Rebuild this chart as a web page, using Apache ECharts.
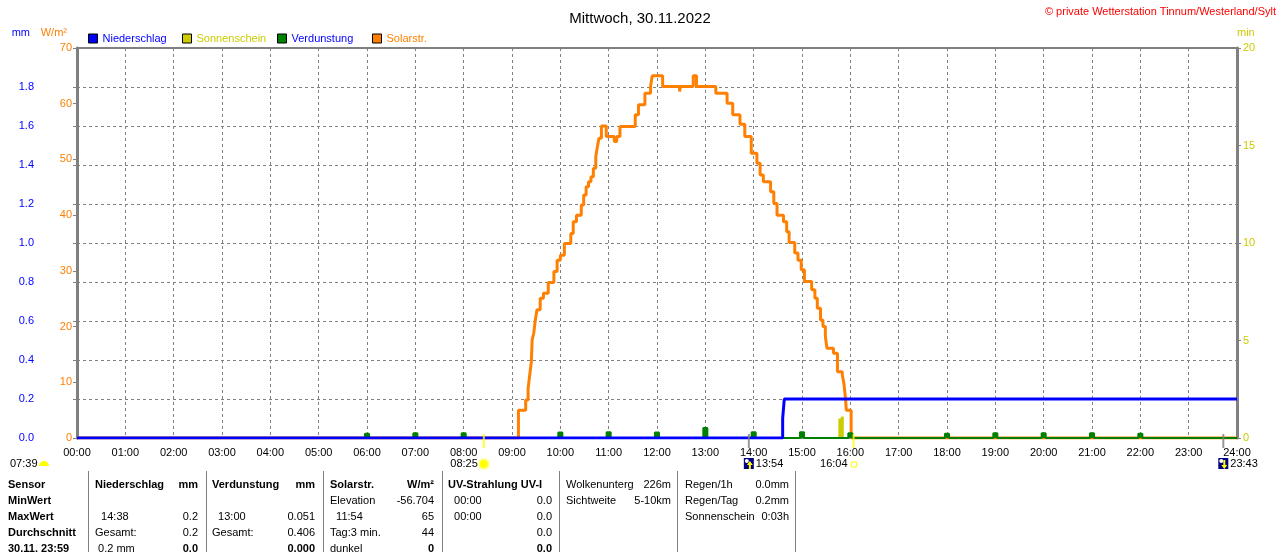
<!DOCTYPE html>
<html>
<head>
<meta charset="utf-8">
<title>Mittwoch, 30.11.2022</title>
<script src="https://cdn.jsdelivr.net/npm/echarts@6/dist/echarts.min.js"></script>
<style>
html, body { margin: 0; padding: 0; background: #fff; }
#main { width: 1280px; height: 552px; }
</style>
</head>
<body>
<div id="main"></div>
<script>
var FONT = '"Liberation Sans", Arial, sans-serif';

// Solarstrahlung W/m² (Zeitpunkt, ab dem der Wert gilt)
var solarTimes = ['00:00', '09:08', '09:17', '09:20', '09:22', '09:24', '09:25', '09:27', '09:29', '09:31',
    '09:35', '09:39', '09:45', '09:52', '09:56', '10:00', '10:05', '10:13', '10:16', '10:20',
    '10:26', '10:29', '10:32', '10:35', '10:38', '10:41', '10:44', '10:46', '10:48', '10:51',
    '10:57', '11:07', '11:10', '11:14', '11:33', '11:37', '11:45', '11:52', '11:54', '12:07',
    '12:28', '12:29', '12:45', '12:49', '13:13', '13:27', '13:34', '13:43', '13:49', '13:57',
    '14:04', '14:08', '14:12', '14:21', '14:25', '14:29', '14:37', '14:41', '14:44', '14:51',
    '14:55', '14:59', '15:03', '15:12', '15:16', '15:19', '15:23', '15:26', '15:29', '15:31',
    '15:39', '15:44', '15:50', '15:52', '15:54', '15:55', '16:01', '24:00'];
var solarValues = [0, 5.0, 6.8, 8.9, 11.3, 13.7, 17.6, 18.8, 21.2, 23.0,
    25.1, 26.0, 27.9, 29.9, 31.9, 32.8, 34.9, 36.7, 38.8, 40.0,
    41.8, 43.6, 45.1, 46.0, 46.9, 48.4, 50.5, 52.3, 53.8, 56.0,
    54.1, 53.2, 54.1, 55.9, 58.0, 59.8, 61.9, 63.1, 65.0, 63.1,
    62.2, 63.1, 65.0, 63.1, 61.9, 60.1, 58.0, 56.3, 54.1, 51.1,
    49.3, 47.2, 46.0, 44.2, 42.1, 40.0, 38.8, 37.0, 35.1, 33.2,
    31.9, 30.2, 28.1, 26.6, 25.1, 23.3, 21.2, 20.0, 18.2, 16.1,
    15.2, 11.9, 11.3, 9.8, 7.1, 5.0, 0, 0];

// Niederschlag mm (Tagessumme)
var rainTimes = ['00:00', '14:36', '14:38', '24:00'];
var rainValues = [0, 0.1, 0.2, 0.2];

// Verdunstung mm je Stunde
var evapHours = [6, 7, 8, 10, 11, 12, 13, 14, 15, 16, 18, 19, 20, 21, 22];
var evapValues = [0.022, 0.025, 0.025, 0.028, 0.03, 0.028, 0.051, 0.03, 0.03, 0.025, 0.022, 0.025, 0.025, 0.025, 0.022];

// Sonnenschein min
var sunTimes = ['15:47', '15:50'];
var sunValues = [1.0, 1.1];

// Sonne / Mond auf- und untergang
var eventTimes = ['08:25', '13:54', '16:04', '23:43'];
var eventKinds = ['sunrise', 'moonrise', 'sunset', 'moonset'];
var dawnTime = '07:39';

// Tabelle unten
var tableLeft = [
    ['Sensor', 'MinWert', 'MaxWert', 'Durchschnitt', '30.11. 23:59'],
    ['Niederschlag', '', '  14:38', 'Gesamt:', ' 0.2 mm'],
    ['Verdunstung', '', '  13:00', 'Gesamt:', ''],
    ['Solarstr.', 'Elevation', '  11:54', 'Tag:3 min.', 'dunkel'],
    ['UV-Strahlung UV-I', '  00:00', '  00:00', '', ''],
    ['Wolkenunterg', 'Sichtweite', '', '', ''],
    ['Regen/1h', 'Regen/Tag', 'Sonnenschein', '', '']
];
var tableRight = [
    ['', '', '', '', ''],
    ['mm', '', '0.2', '0.2', '0.0'],
    ['mm', '', '0.051', '0.406', '0.000'],
    ['W/m²', '-56.704', '65', '44', '0'],
    ['', '0.0', '0.0', '0.0', '0.0'],
    ['226m', '5-10km', '', '', ''],
    ['0.0mm', '0.2mm', '0:03h', '', '']
];

function hm(s) {
    var p = s.split(':');
    return +p[0] * 60 + +p[1];
}
function pairs(t, v) {
    return t.map(function (s, i) { return [hm(s), v[i]]; });
}
function pad(n) { return (n < 10 ? '0' : '') + n; }

var evapData = [[0, 0]];
evapHours.forEach(function (h, i) {
    var m = h * 60;
    evapData.push([m - 5, 0], [m, evapValues[i]], [m + 5, 0]);
});
evapData.push([1440, 0]);

var markerData = eventTimes.map(function (t, i) {
    var sun = eventKinds[i].indexOf('sun') === 0;
    return { value: [hm(t), 0], itemStyle: { color: sun ? '#ffff00' : '#808080' } };
});

var myChart = echarts.init(document.getElementById('main'));

var legendBase = {
    icon: 'rect',
    itemWidth: 9,
    itemHeight: 9,
    top: 33,
    padding: 0,
    selectedMode: false,
    itemStyle: { borderColor: '#000', borderWidth: 1 },
    textStyle: { fontSize: 11, fontFamily: FONT }
};
function legendAt(left, name, color) {
    return Object.assign({}, legendBase, {
        left: left,
        data: [{ name: name, textStyle: { color: color } }]
    });
}

option = {
    animation: false,
    backgroundColor: '#fff',
    title: {
        text: 'Mittwoch, 30.11.2022',
        left: 'center',
        top: 6,
        textStyle: { color: '#000', fontSize: 15, fontWeight: 'normal', fontFamily: FONT }
    },
    legend: [
        legendAt(88, 'Niederschlag', '#0000ff'),
        legendAt(182, 'Sonnenschein', '#cccc00'),
        legendAt(277, 'Verdunstung', '#0000ff'),
        legendAt(372, 'Solarstr.', '#ff8000')
    ],
    grid: {
        left: 77,
        right: 43,
        top: 48,
        bottom: 114,
        show: true,
        borderColor: '#808080',
        borderWidth: 2
    },
    xAxis: {
        type: 'value',
        min: 0,
        max: 1440,
        interval: 60,
        axisLine: { onZero: false, lineStyle: { color: '#808080', width: 2 } },
        axisTick: { show: false },
        axisLabel: {
            color: '#000',
            fontSize: 11,
            fontFamily: FONT,
            margin: 9,
            formatter: function (v) { return pad(v / 60) + ':00'; }
        },
        splitLine: { show: true, lineStyle: { color: '#808080', type: [3, 3], width: 1 } }
    },
    yAxis: [{
        // mm
        type: 'value',
        position: 'left',
        offset: 37,
        min: 0,
        max: 2,
        interval: 0.2,
        axisLine: { show: true, lineStyle: { color: '#808080', width: 1 } },
        axisTick: { show: true, length: 4, lineStyle: { color: '#808080' } },
        axisLabel: {
            color: '#0000ff',
            fontSize: 11,
            fontFamily: FONT,
            margin: 6,
            formatter: function (v) { return v >= 2 ? '' : v.toFixed(1); }
        },
        splitLine: { show: true, lineStyle: { color: '#808080', type: [3, 3], width: 1 } }
    }, {
        // W/m²
        type: 'value',
        position: 'left',
        offset: 0,
        min: 0,
        max: 70,
        interval: 10,
        axisLine: { show: true, lineStyle: { color: '#808080', width: 3 } },
        axisTick: { show: true, length: 4, lineStyle: { color: '#808080' } },
        axisLabel: { color: '#ff8000', fontSize: 11, fontFamily: FONT, margin: 5 },
        splitLine: { show: false }
    }, {
        // min
        type: 'value',
        position: 'right',
        min: 0,
        max: 20,
        interval: 5,
        axisLine: { show: true, lineStyle: { color: '#808080', width: 3 } },
        axisTick: { show: true, length: 4, lineStyle: { color: '#808080' } },
        axisLabel: { color: '#cccc00', fontSize: 11, fontFamily: FONT, margin: 6 },
        splitLine: { show: false }
    }],
    series: [{
        name: 'Solarstr.',
        type: 'line',
        yAxisIndex: 1,
        step: 'end',
        showSymbol: false,
        color: '#ff8000',
        itemStyle: { color: '#ff8000' },
        lineStyle: { color: '#ff8000', width: 3 },
        data: pairs(solarTimes, solarValues),
        z: 2
    }, {
        name: 'Verdunstung',
        type: 'line',
        yAxisIndex: 0,
        step: 'middle',
        showSymbol: false,
        color: '#008000',
        itemStyle: { color: '#008000' },
        lineStyle: { color: '#008000', width: 2 },
        areaStyle: { color: '#008000', opacity: 1 },
        data: evapData,
        z: 3
    }, {
        name: 'Niederschlag',
        type: 'line',
        yAxisIndex: 0,
        step: 'end',
        showSymbol: false,
        color: '#0000ff',
        itemStyle: { color: '#0000ff' },
        lineStyle: { color: '#0000ff', width: 3 },
        data: pairs(rainTimes, rainValues),
        z: 4
    }, {
        name: 'Sonnenschein',
        type: 'bar',
        yAxisIndex: 2,
        barWidth: 3,
        color: '#cccc00',
        itemStyle: { color: '#cccc00' },
        data: pairs(sunTimes, sunValues),
        z: 3
    }, {
        name: 'Ereignisse',
        type: 'scatter',
        yAxisIndex: 0,
        symbol: 'rect',
        symbolSize: [2, 14],
        symbolOffset: [0, 3],
        clip: false,
        silent: true,
        data: markerData,
        z: 6
    }]
};
myChart.setOption(option);

// Beschriftung unter der Achse und Tabelle
var g = [];
function txt(x, y, s, color, align, bold) {
    g.push({
        type: 'text', x: x, y: y, silent: true,
        style: {
            text: s, fill: color || '#000',
            font: (bold ? 'bold ' : '') + '11px ' + FONT,
            align: align || 'left', verticalAlign: 'middle'
        }
    });
}
function sunIcon(x, y) {
    g.push({ type: 'circle', shape: { cx: x, cy: y, r: 6 }, style: { fill: '#ffff99' }, silent: true });
    g.push({ type: 'circle', shape: { cx: x, cy: y, r: 4 }, style: { fill: '#ffff00' }, silent: true });
}
function moonIcon(x, y, up) {
    g.push({ type: 'rect', shape: { x: x - 5, y: y - 6, width: 10, height: 11 }, style: { fill: '#000080' }, silent: true });
    g.push({ type: 'circle', shape: { cx: x - 2, cy: y - 3, r: 2 }, style: { fill: '#fff' }, silent: true });
    var pts = up ? [[x + 1, y - 3], [x + 4, y + 1], [x + 2, y + 1], [x + 2, y + 5], [x, y + 5], [x, y + 1], [x - 2, y + 1]]
                 : [[x + 1, y + 5], [x + 4, y + 1], [x + 2, y + 1], [x + 2, y - 4], [x, y - 4], [x, y + 1], [x - 2, y + 1]];
    g.push({ type: 'polygon', shape: { points: pts }, style: { fill: '#ffff00' }, silent: true });
}

// Achsennamen
txt(30, 33, 'mm', '#0000ff', 'right');
txt(67, 33, 'W/m²', '#ff8000', 'right');
txt(1237, 33, 'min', '#cccc00', 'left');

var ly = 464;
txt(10, ly, dawnTime);
g.push({ type: 'sector', shape: { cx: 44, cy: ly + 2, r0: 0, r: 5, startAngle: Math.PI, endAngle: 2 * Math.PI }, style: { fill: '#ffff00' }, silent: true });
eventTimes.forEach(function (t, i) {
    var mx = myChart.convertToPixel({ xAxisIndex: 0 }, hm(t));
    var k = eventKinds[i];
    if (k === 'sunrise') {
        txt(mx - 6, ly, t, '#000', 'right');
        sunIcon(mx, ly);
    } else if (k === 'sunset') {
        txt(mx - 6, ly, t, '#000', 'right');
        g.push({ type: 'rect', shape: { x: mx - 2, y: ly - 2, width: 5, height: 5 }, style: { fill: '#fff', stroke: '#ffff00', lineWidth: 1 }, silent: true });
    } else {
        moonIcon(mx, ly, k === 'moonrise');
        txt(mx + 7, ly, t);
    }
});

var colLeft = [8, 95, 212, 330, 448, 566, 685];
var colRight = [0, 198, 315, 434, 552, 671, 789];
var sepX = [88, 206, 323, 442, 559, 677, 795];
var rowY = [485, 501, 517, 533, 549];
sepX.forEach(function (x) {
    g.push({ type: 'line', shape: { x1: x + 0.5, y1: 471, x2: x + 0.5, y2: 552 }, style: { stroke: '#808080', lineWidth: 1 }, silent: true });
});
tableLeft.forEach(function (col, c) {
    col.forEach(function (s, r) {
        if (s) txt(colLeft[c], rowY[r], s, '#000', 'left', c === 0 || (r === 0 && c < 5));
        var rs = tableRight[c][r];
        if (rs) txt(colRight[c], rowY[r], rs, '#000', 'right', (r === 0 || r === 4) && c < 5);
    });
});

txt(1276, 12, '© private Wetterstation Tinnum/Westerland/Sylt', '#ff0000', 'right');

myChart.setOption({ graphic: { elements: g } });
</script>
</body>
</html>
